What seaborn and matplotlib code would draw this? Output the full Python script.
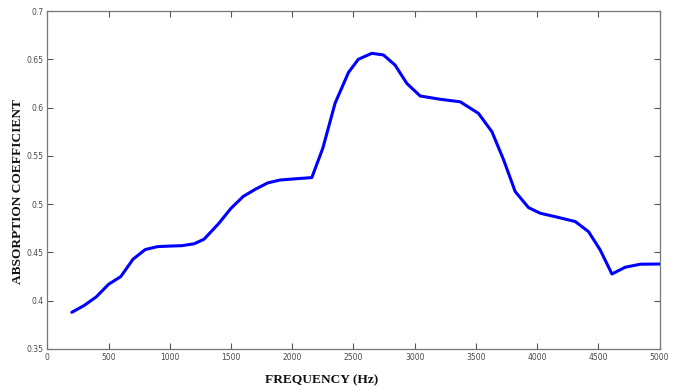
import matplotlib
matplotlib.use("Agg")
import matplotlib.pyplot as plt
import seaborn as sns
import pandas as pd

frequency = [200, 300, 400, 500, 600, 700, 800, 900, 1000, 1100, 1200, 1280, 1400, 1500,
             1600, 1700, 1800, 1900, 2000, 2160, 2250, 2350, 2460, 2540, 2650, 2745,
             2840, 2936, 3045, 3208, 3372, 3521, 3631, 3726, 3821, 3930, 4025, 4148,
             4311, 4420, 4515, 4611, 4720, 4843, 5000]
absorption = [0.388, 0.395, 0.404, 0.417, 0.425, 0.443, 0.453, 0.456, 0.4566, 0.457, 0.459,
              0.4637, 0.480, 0.4957, 0.508, 0.5155, 0.522, 0.525, 0.526, 0.5275, 0.558,
              0.6045, 0.6365, 0.650, 0.6562, 0.6545, 0.644, 0.625, 0.612, 0.6086, 0.606,
              0.594, 0.575, 0.546, 0.513, 0.4964, 0.4906, 0.487, 0.482, 0.4715, 0.4526,
              0.4277, 0.4347, 0.4378, 0.438]
x_ticks = [0, 500, 1000, 1500, 2000, 2500, 3000, 3500, 4000, 4500, 5000]
y_ticks = [0.35, 0.4, 0.45, 0.5, 0.55, 0.6, 0.65, 0.7]
y_tick_labels = ["0.35", "0.4", "0.45", "0.5", "0.55", "0.6", "0.65", "0.7"]

df = pd.DataFrame({"f": frequency, "a": absorption})

sns.set_style("white")
fig = plt.figure(figsize=(6.78, 3.92), dpi=100)
ax = fig.add_axes([0.0698, 0.1097, 0.9030, 0.8622])
sns.lineplot(data=df, x="f", y="a", ax=ax, color="#0000ff", linewidth=2.2)

ax.set_xlim(0, 5000)
ax.set_ylim(0.35, 0.7)
ax.set_xticks(x_ticks)
ax.set_xticklabels([str(t) for t in x_ticks])
ax.set_yticks(y_ticks)
ax.set_yticklabels(y_tick_labels)
ax.tick_params(direction="in", length=4, width=0.8, color="#555555",
               labelsize=5.5, labelcolor="#4a4a4a", top=True, right=True,
               bottom=True, left=True, pad=3)
for s in ax.spines.values():
    s.set_visible(True)
    s.set_color("#777777")
    s.set_linewidth(0.9)

ax.set_xlabel("")
ax.set_ylabel("")
fig.text(0.475, 0.031, "FREQUENCY (Hz)", ha="center", va="center",
         fontsize=9.6, fontweight="bold", family="Liberation Serif", color="#111111")
fig.text(0.027, 0.512, "ABSORPTION COEFFICIENT", ha="center", va="center", rotation=90,
         fontsize=9.6, fontweight="bold", family="Liberation Serif", color="#111111")

fig.savefig("out.png", dpi=100)
